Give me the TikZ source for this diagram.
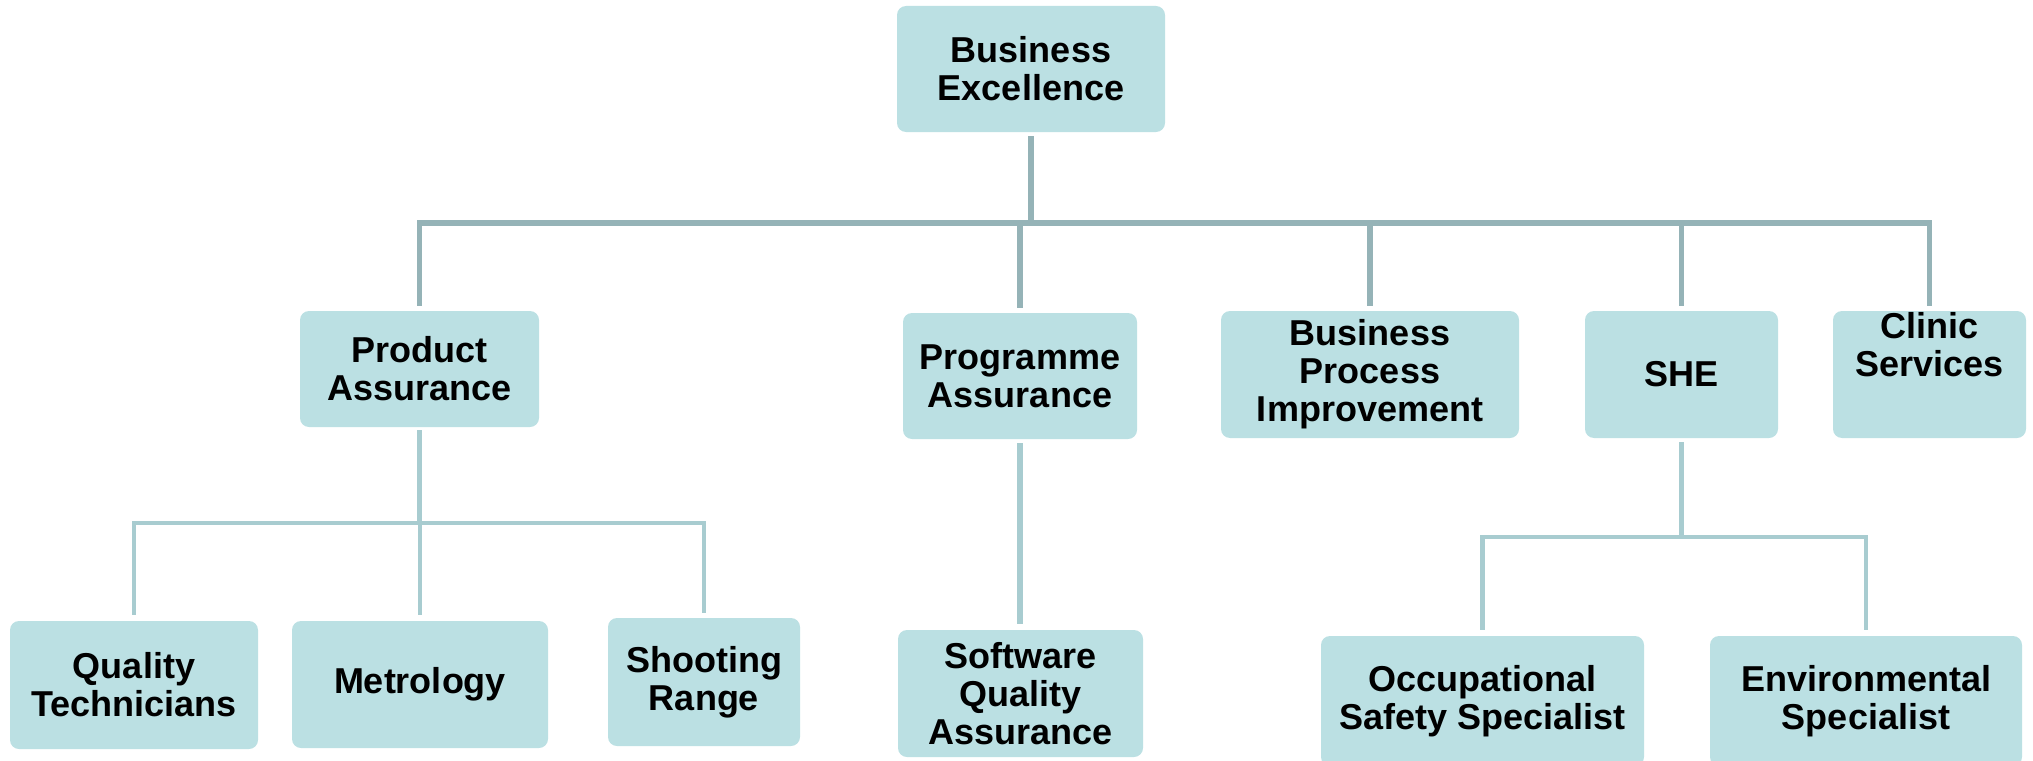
\documentclass[tikz,border=0pt]{standalone}
\usepackage{fontspec}
\setmainfont{Liberation Sans}
\definecolor{boxfill}{HTML}{BBE0E3}
\definecolor{linktop}{HTML}{95B3B7}
\definecolor{linksub}{HTML}{A8CCD0}
\begin{document}
\begin{tikzpicture}[x=1pt,y=-1pt,
  unit/.style 2 args={draw=none, fill=boxfill, rounded corners=9pt,
    inner sep=0pt, align=center,
    font=\bfseries\fontsize{36}{38}\selectfont,
    minimum width=#1, minimum height=#2},
  label text/.style={inner sep=0pt, align=center,
    font=\bfseries\fontsize{36}{38}\selectfont},
  toplink/.style={draw=linktop, line width=5.5pt, line join=miter},
  sublink/.style={draw=linksub, line width=4.5pt, line join=miter},
]
\useasboundingbox (0,0) rectangle (2033,760);

% top of the chart
\node[unit={268}{126}] (be) at (1031,69) {Business\\Excellence};

% first level
\node[unit={239}{116}] (pa)  at (419.5,369)  {Product\\Assurance};
\node[unit={234}{126}] (pga) at (1020,376)   {Programme\\Assurance};
\node[unit={298}{127}] (bpi) at (1370,374.5) {Business\\Process\\Improvement};
\node[unit={193}{127}] (she) at (1681.5,374.5) {SHE};
\node[unit={193}{127}] (cs)  at (1929.5,374.5) {};
\node[label text] (cstext) at (1929.5,344.5) {Clinic\\Services};

% second level
\node[unit={248}{128}] (qt)  at (134,685)    {Quality\\Technicians};
\node[unit={256}{127}] (met) at (420,684.5)  {Metrology};
\node[unit={192}{128}] (sr)  at (704,682)    {Shooting\\Range};
\node[unit={245}{127}] (sqa) at (1020.5,693.5) {Software\\Quality\\Assurance};
\node[unit={323}{130}] (osp) at (1482.5,701) {Occupational\\Safety Specialist};
\node[unit={312}{130}] (env) at (1866,701)   {Environmental\\Specialist};

% first-level connectors
\coordinate (bus) at (0,223);
\draw[toplink, shorten <=4pt] (be.south) -- (bus -| be.south);
\draw[toplink, shorten <=5pt, shorten >=5pt]
  (pa.north) |- (bus -| be.south) -| (cs.north);
\foreach \n in {pga,bpi,she}
  \draw[toplink, shorten >=5pt] (bus -| \n.north) -- (\n.north);

% Product Assurance branch
\coordinate (pabus) at (0,523);
\draw[sublink, shorten <=3pt] (pa.south) -- (pabus -| pa.south);
\draw[sublink, shorten <=6pt, shorten >=5pt]
  (qt.north) |- (pabus -| pa.south) -| (sr.north);
\draw[sublink, shorten >=6pt] (pabus -| met.north) -- (met.north);

% Programme Assurance branch
\draw[sublink, line width=6pt, shorten <=4pt, shorten >=6pt]
  (pga.south) -- (pga.south |- sqa.north);

% SHE branch
\coordinate (shebus) at (0,537);
\draw[sublink, shorten <=4pt] (she.south) -- (shebus -| she.south);
\draw[sublink, shorten <=6pt, shorten >=6pt]
  (osp.north) |- (shebus -| she.south) -| (env.north);
\end{tikzpicture}
\end{document}
